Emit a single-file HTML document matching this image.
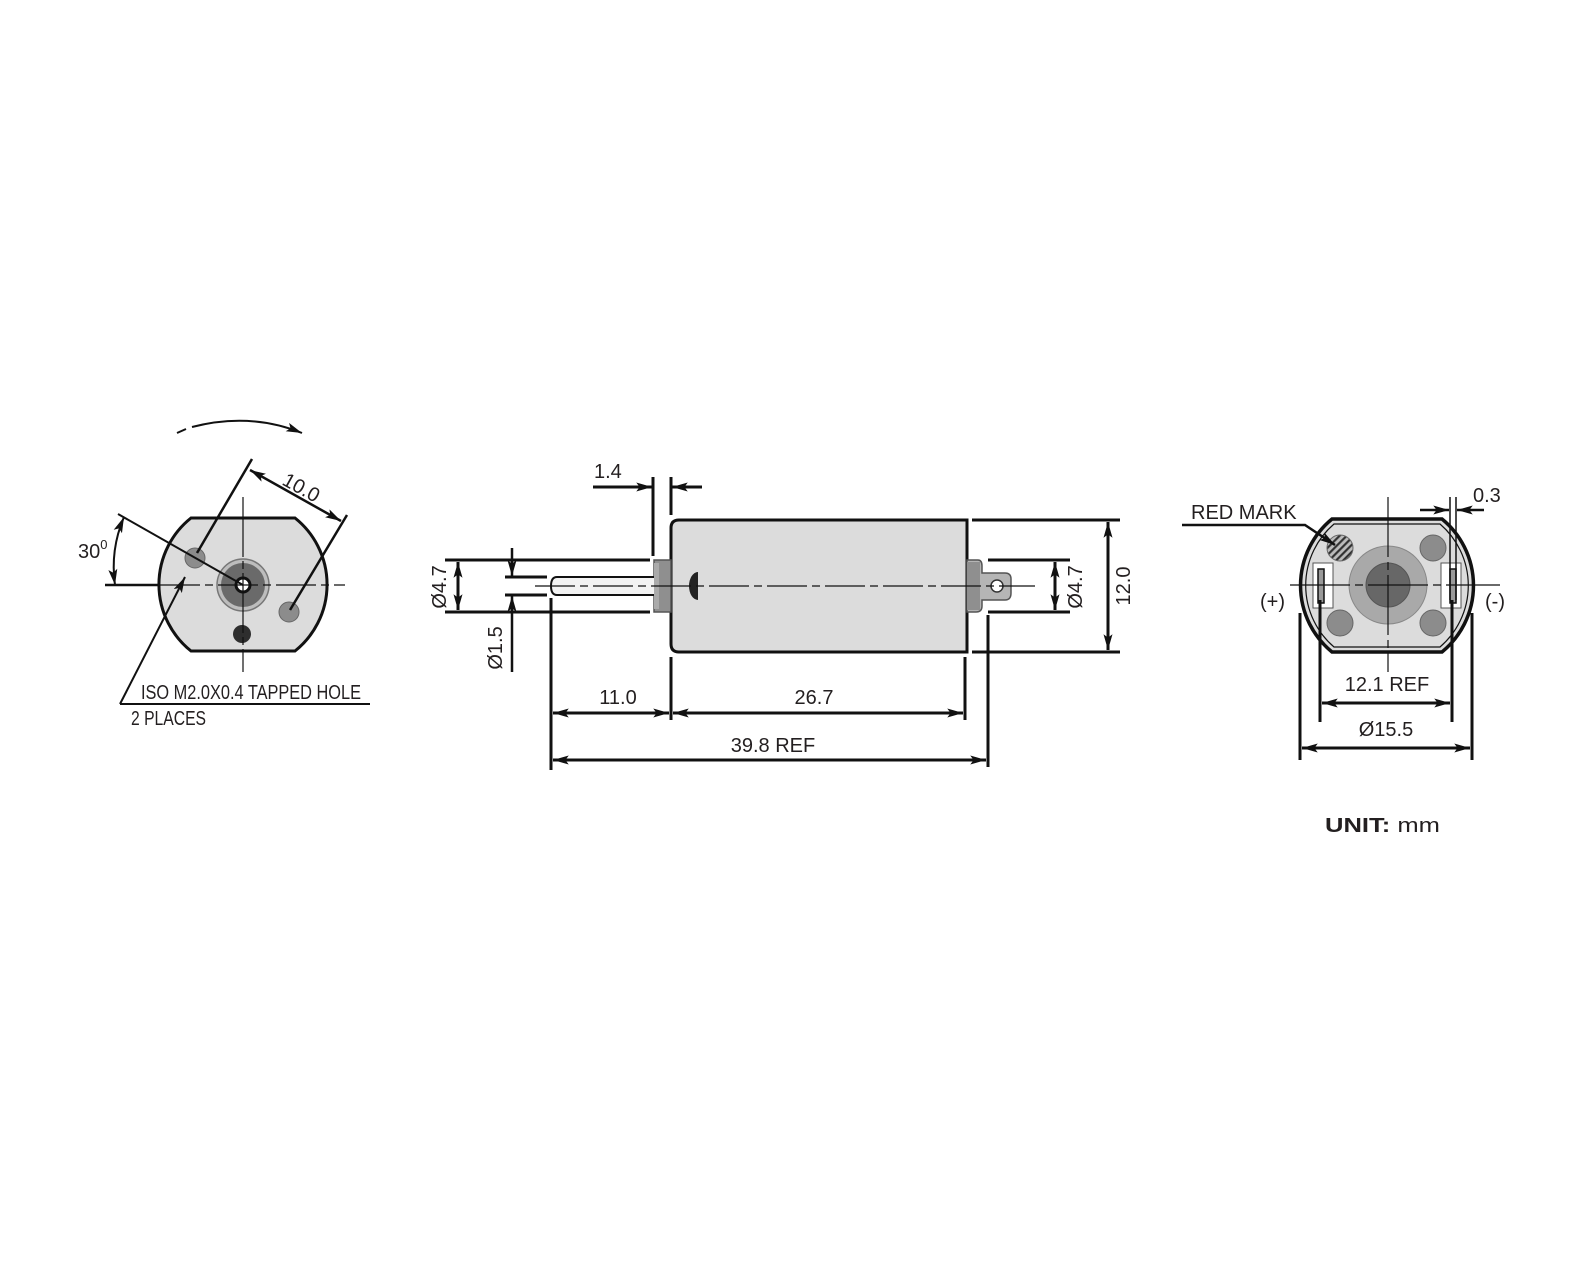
<!DOCTYPE html>
<html><head><meta charset="utf-8"><style>
html,body{margin:0;padding:0;background:#fff;}
svg{display:block;}
text{font-family:"Liberation Sans",sans-serif;fill:#231f20;font-size:20px;}
</style></head><body>
<svg width="1590" height="1261" viewBox="0 0 1590 1261" xmlns="http://www.w3.org/2000/svg">
<defs>
<marker id="a" viewBox="0 0 14 8" refX="14" refY="4" markerWidth="16" markerHeight="9" markerUnits="userSpaceOnUse" orient="auto-start-reverse"><path d="M0,0 L14,4 L0,8 L3,4 Z" fill="#111"/></marker>
<pattern id="h" width="5" height="5" patternUnits="userSpaceOnUse" patternTransform="rotate(45)"><rect width="5" height="5" fill="#bbb"/><rect width="2.2" height="5" fill="#333"/></pattern>
</defs>
<g stroke="#111" fill="none">
<!-- LEFT VIEW -->
<path d="M191,518 L295,518 A85 85 0 0 1 295,651 L191,651 A85 85 0 0 1 191,518 Z" fill="#dcdcdc" stroke-width="3"/>
<circle cx="243" cy="585" r="26" fill="#bdbdbd" stroke="#777" stroke-width="1.5"/>
<circle cx="243" cy="585" r="22" fill="#6a6a6a" stroke="none"/>
<circle cx="243" cy="585" r="7" fill="#fff" stroke-width="3"/>
<circle cx="195" cy="558" r="10" fill="#8c8c8c" stroke="#666"/>
<circle cx="289" cy="612" r="10" fill="#8c8c8c" stroke="#666"/>
<circle cx="242" cy="634" r="9" fill="#2e2e2e" stroke="none"/>
<line x1="243" y1="497" x2="243" y2="672" stroke-width="1.2" stroke-dasharray="60,4,8,4"/>
<line x1="105" y1="585" x2="160" y2="585" stroke-width="2.5"/>
<line x1="160" y1="585" x2="345" y2="585" stroke-width="1.2" stroke-dasharray="40,5,8,5"/>
<line x1="118" y1="514" x2="243" y2="585" stroke-width="2"/>
<path d="M115,585 A128 128 0 0 1 124,517" stroke-width="2" marker-start="url(#a)" marker-end="url(#a)"/>
<line x1="252" y1="459" x2="197" y2="553" stroke-width="2.5"/>
<line x1="347" y1="515" x2="290" y2="610" stroke-width="2.5"/>
<line x1="250" y1="470" x2="341" y2="521" stroke-width="2.5" marker-start="url(#a)" marker-end="url(#a)"/>
<line x1="120" y1="704" x2="185" y2="577" stroke-width="2" marker-end="url(#a)"/>
<line x1="120" y1="704" x2="370" y2="704" stroke-width="2"/>
<line x1="177" y1="433" x2="186" y2="429" stroke-width="2"/>
<path d="M192,427 Q250,412 302,433" stroke-width="2" marker-end="url(#a)"/>

<!-- MIDDLE VIEW -->
<path d="M679,520 L967,520 L967,652 L679,652 Q671,652 671,644 L671,528 Q671,520 679,520 Z" fill="#dcdcdc" stroke-width="3"/>
<rect x="654" y="560" width="17" height="52" fill="#8f8f8f" stroke="#555" stroke-width="1.5"/>
<rect x="654" y="563" width="5" height="46" fill="#aaa" stroke="none"/>
<path d="M654,577 L557,577 Q551,577 551,586 Q551,595 557,595 L654,595" fill="#f2f2f2" stroke-width="2"/>
<path d="M698,572 A9 14 0 0 0 698,600 Z" fill="#222" stroke="none"/>
<path d="M967,560 L978,560 Q982,560 982,566 L982,573 L1005,573 Q1011,573 1011,579 L1011,593 Q1011,600 1005,600 L982,600 L982,606 Q982,612 976,612 L967,612 Z" fill="#b5b5b5" stroke="#555" stroke-width="1.5"/>
<rect x="967" y="562" width="13" height="48" fill="#8f8f8f" stroke="none"/>
<circle cx="997" cy="586" r="6" fill="#fff" stroke="#333" stroke-width="1.5"/>
<line x1="535" y1="586" x2="1035" y2="586" stroke-width="1.2" stroke-dasharray="40,5,8,5"/>
<line x1="445" y1="560" x2="650" y2="560" stroke-width="3"/>
<line x1="445" y1="612" x2="650" y2="612" stroke-width="3"/>
<line x1="458" y1="562" x2="458" y2="610" stroke-width="3" marker-start="url(#a)" marker-end="url(#a)"/>
<line x1="505" y1="577" x2="547" y2="577" stroke-width="3"/>
<line x1="505" y1="595" x2="547" y2="595" stroke-width="3"/>
<line x1="512" y1="548" x2="512" y2="576" stroke-width="2.5" marker-end="url(#a)"/>
<line x1="512" y1="672" x2="512" y2="596" stroke-width="2.5" marker-end="url(#a)"/>
<line x1="653" y1="477" x2="653" y2="556" stroke-width="3"/>
<line x1="671" y1="477" x2="671" y2="515" stroke-width="3"/>
<line x1="593" y1="487" x2="652" y2="487" stroke-width="3" marker-end="url(#a)"/>
<line x1="702" y1="487" x2="672" y2="487" stroke-width="3" marker-end="url(#a)"/>
<line x1="988" y1="560" x2="1070" y2="560" stroke-width="3"/>
<line x1="988" y1="612" x2="1070" y2="612" stroke-width="3"/>
<line x1="1055" y1="562" x2="1055" y2="610" stroke-width="3" marker-start="url(#a)" marker-end="url(#a)"/>
<line x1="972" y1="520" x2="1120" y2="520" stroke-width="3"/>
<line x1="972" y1="652" x2="1120" y2="652" stroke-width="3"/>
<line x1="1108" y1="522" x2="1108" y2="650" stroke-width="3" marker-start="url(#a)" marker-end="url(#a)"/>
<line x1="551" y1="598" x2="551" y2="770" stroke-width="3"/>
<line x1="671" y1="657" x2="671" y2="720" stroke-width="3"/>
<line x1="965" y1="657" x2="965" y2="720" stroke-width="3"/>
<line x1="988" y1="615" x2="988" y2="767" stroke-width="3"/>
<line x1="553" y1="713" x2="669" y2="713" stroke-width="3" marker-start="url(#a)" marker-end="url(#a)"/>
<line x1="673" y1="713" x2="963" y2="713" stroke-width="3" marker-start="url(#a)" marker-end="url(#a)"/>
<line x1="553" y1="760" x2="986" y2="760" stroke-width="3" marker-start="url(#a)" marker-end="url(#a)"/>

<!-- RIGHT VIEW -->
<path d="M1332,519 L1442,519 A86 86 0 0 1 1442,652 L1332,652 A86 86 0 0 1 1332,519 Z" fill="#dcdcdc" stroke-width="3.5"/>
<path d="M1334,524 L1440,524 A81 81 0 0 1 1440,647 L1334,647 A81 81 0 0 1 1334,524 Z" stroke-width="1.2"/>
<circle cx="1388" cy="585" r="39" fill="#a9a9a9" stroke="#888"/>
<circle cx="1388" cy="585" r="22" fill="#676767" stroke="#555"/>
<circle cx="1340" cy="548" r="13" fill="url(#h)" stroke="#666"/>
<circle cx="1433" cy="548" r="13" fill="#8c8c8c" stroke="#666"/>
<circle cx="1340" cy="623" r="13" fill="#8c8c8c" stroke="#666"/>
<circle cx="1433" cy="623" r="13" fill="#8c8c8c" stroke="#666"/>
<rect x="1313" y="563" width="20" height="45" fill="#fff" stroke="#555" stroke-width="1"/>
<rect x="1318" y="569" width="6" height="34" fill="#999" stroke="#111" stroke-width="1.5"/>
<rect x="1441" y="563" width="20" height="45" fill="#fff" stroke="#555" stroke-width="1"/>
<rect x="1450" y="569" width="6" height="34" fill="#999" stroke="#111" stroke-width="1.5"/>
<line x1="1290" y1="585" x2="1500" y2="585" stroke-width="1.2" stroke-dasharray="60,5,8,5"/>
<line x1="1388" y1="497" x2="1388" y2="672" stroke-width="1.2" stroke-dasharray="60,5,8,5"/>
<line x1="1320" y1="600" x2="1320" y2="722" stroke-width="3"/>
<line x1="1452" y1="600" x2="1452" y2="722" stroke-width="3"/>
<line x1="1300" y1="613" x2="1300" y2="760" stroke-width="3"/>
<line x1="1472" y1="613" x2="1472" y2="760" stroke-width="3"/>
<line x1="1322" y1="703" x2="1450" y2="703" stroke-width="3" marker-start="url(#a)" marker-end="url(#a)"/>
<line x1="1302" y1="748" x2="1470" y2="748" stroke-width="3" marker-start="url(#a)" marker-end="url(#a)"/>
<line x1="1450" y1="497" x2="1450" y2="600" stroke-width="1.5"/>
<line x1="1456" y1="497" x2="1456" y2="600" stroke-width="1.5"/>
<line x1="1420" y1="510" x2="1449" y2="510" stroke-width="2.5" marker-end="url(#a)"/>
<line x1="1484" y1="510" x2="1457" y2="510" stroke-width="2.5" marker-end="url(#a)"/>
<polyline points="1182,525 1305,525 1335,545" stroke-width="2.5" marker-end="url(#a)"/>
</g>

<g>
<text x="78" y="558">30<tspan font-size="13" dy="-9">0</tspan></text>
<text transform="translate(281,484) rotate(29)">10.0</text>
<text x="141" y="699" font-size="17.5" textLength="220" lengthAdjust="spacingAndGlyphs">ISO M2.0X0.4 TAPPED HOLE</text>
<text x="131" y="725" font-size="17.5" textLength="75" lengthAdjust="spacingAndGlyphs">2 PLACES</text>
<text x="594" y="478">1.4</text>
<text transform="translate(446,587) rotate(-90)" text-anchor="middle">Ø4.7</text>
<text transform="translate(502,648) rotate(-90)" text-anchor="middle">Ø1.5</text>
<text transform="translate(1082,587) rotate(-90)" text-anchor="middle">Ø4.7</text>
<text transform="translate(1130,586) rotate(-90)" text-anchor="middle">12.0</text>
<text x="618" y="704" text-anchor="middle">11.0</text>
<text x="814" y="704" text-anchor="middle">26.7</text>
<text x="773" y="752" text-anchor="middle">39.8 REF</text>
<text x="1191" y="519">RED MARK</text>
<text x="1473" y="502">0.3</text>
<text x="1260" y="608" font-size="21">(+)</text>
<text x="1485" y="608" font-size="21">(-)</text>
<text x="1387" y="691" text-anchor="middle">12.1 REF</text>
<text x="1386" y="736" text-anchor="middle">Ø15.5</text>
<text x="1325" y="832" font-size="25" textLength="115" lengthAdjust="spacingAndGlyphs"><tspan font-weight="bold">UNIT:</tspan> mm</text>
</g>
</svg>
</body></html>
